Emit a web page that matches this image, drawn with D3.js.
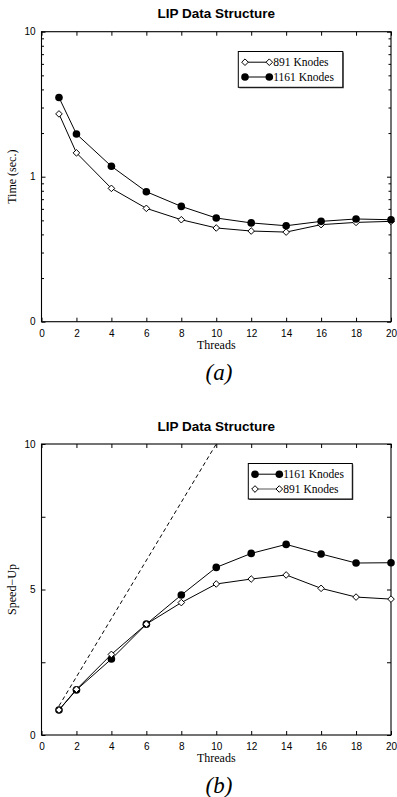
<!DOCTYPE html>
<html><head><meta charset="utf-8">
<script src="https://cdn.jsdelivr.net/npm/d3@7"></script>
<style>
html,body{margin:0;padding:0;background:#fff;}
svg{display:block;}
</style></head>
<body>
<svg id="chart" width="397" height="797"></svg>
<script>
const threads = [1,2,4,6,8,10,12,14,16,18,20];
const xTicks = [0,2,4,6,8,10,12,14,16,18,20];

// (a) time, log scale
const timeK891  = [2.71,1.46,0.831,0.605,0.505,0.443,0.422,0.415,0.467,0.484,0.492];
const timeK1161 = [3.52,1.97,1.18,0.788,0.624,0.519,0.48,0.459,0.492,0.511,0.505];
const timeTicks = [0.1,1,10];
const timeTickLabels = ["0","1","10"];
const timeMinorTicks = [0.2,0.3,0.4,0.5,0.6,0.7,0.8,0.9,2,3,4,5,6,7,8,9];

// (b) speed-up, linear
const speedK1161 = [0.86,1.55,2.61,3.81,4.81,5.76,6.24,6.55,6.22,5.91,5.92];
const speedK891  = [0.86,1.57,2.77,3.81,4.55,5.19,5.36,5.50,5.04,4.74,4.67];
const idealX = [1,10];
const idealY = [1,10];
const speedTicks = [0,2.5,5,7.5,10];
const speedTickLabels = ["0","","5","","10"];

const title = "LIP Data Structure";

const svg = d3.select("#chart");
const L = 41.5, R = 391;

function drawPanel(cfg){
  const g = svg.append("g");
  const x = d3.scaleLinear().domain([0,20]).range([L,R]);
  const y = cfg.y;
  const top = y.range()[1], bot = y.range()[0];

  g.append("text").attr("x",(L+R)/2).attr("y",top-13.5)
    .attr("text-anchor","middle").attr("font-family","Liberation Sans, Arial, sans-serif")
    .attr("font-weight","bold").attr("font-size",13.5).text(title);

  g.append("rect").attr("x",L).attr("y",top).attr("width",R-L).attr("height",bot-top)
    .attr("fill","none").attr("stroke","#000").attr("stroke-width",1.1);

  const tickFont = "Liberation Sans, Arial, sans-serif";
  const xb = d3.axisBottom(x).tickValues(xTicks).tickSize(-4).tickPadding(8).tickFormat(d3.format("d"));
  g.append("g").attr("transform",`translate(0,${bot})`).call(xb);
  const xt = d3.axisTop(x).tickValues(xTicks).tickSize(-4).tickFormat("");
  g.append("g").attr("transform",`translate(0,${top})`).call(xt);
  const yl = d3.axisLeft(y).tickValues(cfg.ticks).tickSize(-4).tickPadding(6)
    .tickFormat((d,i)=>cfg.labels[i]);
  g.append("g").attr("transform",`translate(${L},0)`).call(yl);
  const yr = d3.axisRight(y).tickValues(cfg.ticks).tickSize(-4).tickFormat("");
  g.append("g").attr("transform",`translate(${R},0)`).call(yr);
  if(cfg.minor){
    g.append("g").attr("transform",`translate(${L},0)`)
      .call(d3.axisLeft(y).tickValues(cfg.minor).tickSize(-2.5).tickFormat(""));
    g.append("g").attr("transform",`translate(${R},0)`)
      .call(d3.axisRight(y).tickValues(cfg.minor).tickSize(-2.5).tickFormat(""));
  }
  g.selectAll(".domain").remove();
  g.selectAll(".tick line").attr("stroke","#000").attr("stroke-width",1);
  g.selectAll(".tick text").attr("font-family",tickFont).attr("font-size",10).attr("fill","#000");

  g.append("text").attr("x",(L+R)/2).attr("y",bot+27).attr("text-anchor","middle")
    .attr("font-family","Liberation Serif, Times New Roman, serif").attr("font-size",12).text("Threads");
  g.append("text").attr("transform",`translate(16,${(top+bot)/2}) rotate(-90)`)
    .attr("text-anchor","middle")
    .attr("font-family","Liberation Serif, Times New Roman, serif").attr("font-size",12).text(cfg.ylabel);
  g.append("text").attr("x",219).attr("y",bot+58).attr("text-anchor","middle")
    .attr("font-family","Liberation Serif, Times New Roman, serif").attr("font-style","italic")
    .attr("font-size",23).text(cfg.caption);

  if(cfg.ideal){
    const pts = cfg.ideal[0].map((d,i)=>[d,cfg.ideal[1][i]]);
    g.append("path").attr("d",d3.line().x(d=>x(d[0])).y(d=>y(d[1]))(pts))
      .attr("fill","none").attr("stroke","#000").attr("stroke-width",1).attr("stroke-dasharray","4,3");
  }

  const line = d3.line().x(d=>x(d[0])).y(d=>y(d[1]));
  const diamond = (cx,cy,s)=>`M${cx},${cy-s}L${cx+s},${cy}L${cx},${cy+s}L${cx-s},${cy}Z`;
  function drawMarker(sel,type,cx,cy){
    if(type==="circle") sel.append("circle").attr("cx",cx).attr("cy",cy).attr("r",3.8).attr("fill","#000");
    else sel.append("path").attr("d",diamond(cx,cy,3.3)).attr("fill","#fff").attr("stroke","#000").attr("stroke-width",1);
  }
  cfg.series.forEach(s=>{
    const pts = threads.map((t,i)=>[t,s.values[i]]);
    g.append("path").attr("d",line(pts)).attr("fill","none").attr("stroke","#000").attr("stroke-width",1);
    const mg = g.append("g");
    pts.forEach(p=>drawMarker(mg,s.type,x(p[0]),y(p[1])));
  });

  const lg = cfg.legend;
  g.append("rect").attr("x",lg.x+1).attr("y",lg.y+1).attr("width",lg.w).attr("height",lg.h).attr("fill","#555");
  g.append("rect").attr("x",lg.x).attr("y",lg.y).attr("width",lg.w).attr("height",lg.h)
    .attr("fill","#fff").attr("stroke","#000").attr("stroke-width",1);
  cfg.series.forEach((s,i)=>{
    const cy = lg.y + 10.7 + i*14.8;
    const x0 = lg.x + 6.7, x1 = lg.x + 31;
    g.append("line").attr("x1",x0).attr("x2",x1).attr("y1",cy).attr("y2",cy).attr("stroke",s.legendStroke||"#000").attr("stroke-width",1);
    drawMarker(g,s.type,x0,cy); drawMarker(g,s.type,x1,cy);
    g.append("text").attr("x",x1+4).attr("y",cy+3.8)
      .attr("font-family","Liberation Serif, Times New Roman, serif").attr("font-size",11.5).text(s.name);
  });
}

drawPanel({
  y: d3.scaleLog().domain([0.1,10]).range([321.7,31.7]),
  ticks: timeTicks, labels: timeTickLabels, minor: timeMinorTicks,
  ylabel: "Time (sec.)", caption: "(a)",
  series: [
    {name:"891 Knodes", values: timeK891, type:"diamond"},
    {name:"1161 Knodes", values: timeK1161, type:"circle"}
  ],
  legend: {x:238.3, y:51.5, w:104.5, h:35.8}
});

drawPanel({
  y: d3.scaleLinear().domain([0,10]).range([735,444]),
  ticks: speedTicks, labels: speedTickLabels,
  ylabel: "Speed\u2212Up", caption: "(b)",
  ideal: [idealX, idealY],
  series: [
    {name:"1161 Knodes", values: speedK1161, type:"circle"},
    {name:"891 Knodes", values: speedK891, type:"diamond", legendStroke:"#555"}
  ],
  legend: {x:248.3, y:463.5, w:104, h:35.5}
});
</script>
</body></html>
